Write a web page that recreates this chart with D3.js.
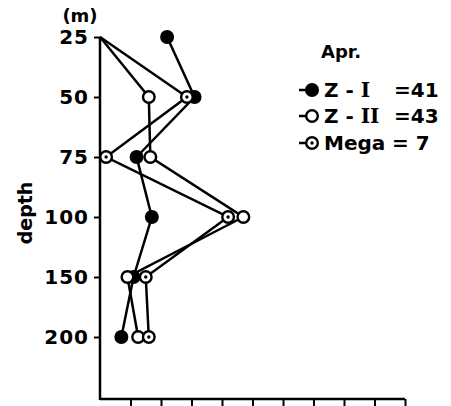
<!DOCTYPE html>
<html>
<head>
<meta charset="utf-8">
<script src="https://cdn.jsdelivr.net/npm/d3@7"></script>
<style>
  body { margin: 0; background: #fff; }
  svg { display: block; }
  text { font-family: "DejaVu Sans", Arial, sans-serif; font-weight: bold; fill: #000; }
</style>
</head>
<body>
<svg width="451" height="406"></svg>
<script>
"use strict";

// depth categories (m)
const depths = ["25", "50", "75", "100", "150", "200"];
// abundance, x axis units
const zOne  = [2.2, 3.1, 1.2, 1.7, 1.1, 0.7];
const zTwo  = [0,   1.6, 1.65, 4.7, 0.9, 1.25];
const mega  = [0,   2.85, 0.2, 4.2, 1.5, 1.6];
const xTicks = [1, 2, 3, 4, 5, 6, 7, 8, 9, 10];

const series = [
  {name: "Z - ", roman: "I",  count: "=41", values: zOne, kind: "filled"},
  {name: "Z - ", roman: "II", count: "=43", values: zTwo, kind: "open"},
  {name: "Mega", roman: "",   count: "= 7", values: mega, kind: "dot"}
];

const svg = d3.select("svg");
const x = d3.scaleLinear().domain([0, 10]).range([100, 405]);
const y = d3.scalePoint().domain(depths).range([37, 337]);
const axisY = 399;

// axes
svg.append("g")
  .attr("transform", "translate(0," + axisY + ")")
  .call(d3.axisBottom(x).tickValues(xTicks).tickFormat("").tickSize(7).tickSizeOuter(0))
  .call(g => g.select(".domain").remove())
  .call(g => g.selectAll("line").attr("stroke", "#000").attr("stroke-width", 2));

svg.append("line")
  .attr("x1", x(0)).attr("x2", x(10))
  .attr("y1", axisY).attr("y2", axisY)
  .attr("stroke", "#000").attr("stroke-width", 2.5);

svg.append("line")
  .attr("x1", x(0)).attr("x2", x(0))
  .attr("y1", y("25")).attr("y2", axisY + 1)
  .attr("stroke", "#000").attr("stroke-width", 2.5);

svg.append("g")
  .attr("transform", "translate(" + x(0) + ",0)")
  .call(d3.axisLeft(y).tickSize(6).tickPadding(5))
  .call(g => g.select(".domain").remove())
  .call(g => g.selectAll("line").attr("stroke", "#000").attr("stroke-width", 2))
  .call(g => g.selectAll("text")
    .style("font-family", "DejaVu Sans, Arial, sans-serif")
    .style("font-weight", "bold")
    .style("font-size", "20px")
    .style("letter-spacing", "1px")
    .attr("fill", "#000"));

svg.append("text")
  .attr("x", 80).attr("y", 22)
  .attr("text-anchor", "middle")
  .style("font-size", "18px")
  .text("(m)");

svg.append("text")
  .attr("transform", "translate(32,213) rotate(-90)")
  .attr("text-anchor", "middle")
  .style("font-size", "19px")
  .text("depth");

// lines
const line = d3.line()
  .x(d => x(d[1]))
  .y(d => y(d[0]));

series.forEach(s => {
  svg.append("path")
    .datum(depths.map((d, i) => [d, s.values[i]]))
    .attr("d", line)
    .attr("fill", "none")
    .attr("stroke", "#000")
    .attr("stroke-width", 2.5);
});

function drawMarker(g, kind, cx, cy) {
  if (kind === "filled") {
    g.append("circle").attr("cx", cx).attr("cy", cy).attr("r", 7).attr("fill", "#000");
  } else {
    g.append("circle").attr("cx", cx).attr("cy", cy).attr("r", 5.8)
      .attr("fill", "#fff").attr("stroke", "#000").attr("stroke-width", 2.4);
    if (kind === "dot") {
      g.append("circle").attr("cx", cx).attr("cy", cy).attr("r", 1.7).attr("fill", "#000");
    }
  }
}

const marks = svg.append("g");
series.forEach(s => {
  depths.forEach((d, i) => {
    if (s.values[i] > 0) drawMarker(marks, s.kind, x(s.values[i]), y(d));
  });
});

// legend
const legend = svg.append("g");
legend.append("text")
  .attr("x", 321).attr("y", 58)
  .style("font-size", "18px")
  .text("Apr.");

const rowY = [90, 116, 143];
series.forEach((s, i) => {
  const ly = rowY[i];
  legend.append("line")
    .attr("x1", 299).attr("x2", 312)
    .attr("y1", ly).attr("y2", ly)
    .attr("stroke", "#000").attr("stroke-width", 2.5);
  drawMarker(legend, s.kind, 312, ly);
  const t = legend.append("text")
    .attr("x", 324).attr("y", ly + 7)
    .style("font-size", "20px");
  t.append("tspan").text(s.name);
  if (s.roman) {
    t.append("tspan")
      .style("font-family", "DejaVu Serif, serif")
      .text(" " + s.roman);
  }
  legend.append("text")
    .attr("x", s.roman ? 394 : 392).attr("y", ly + 7)
    .style("font-size", "20px")
    .style("white-space", "pre")
    .text(s.count);
});
</script>
</body>
</html>
